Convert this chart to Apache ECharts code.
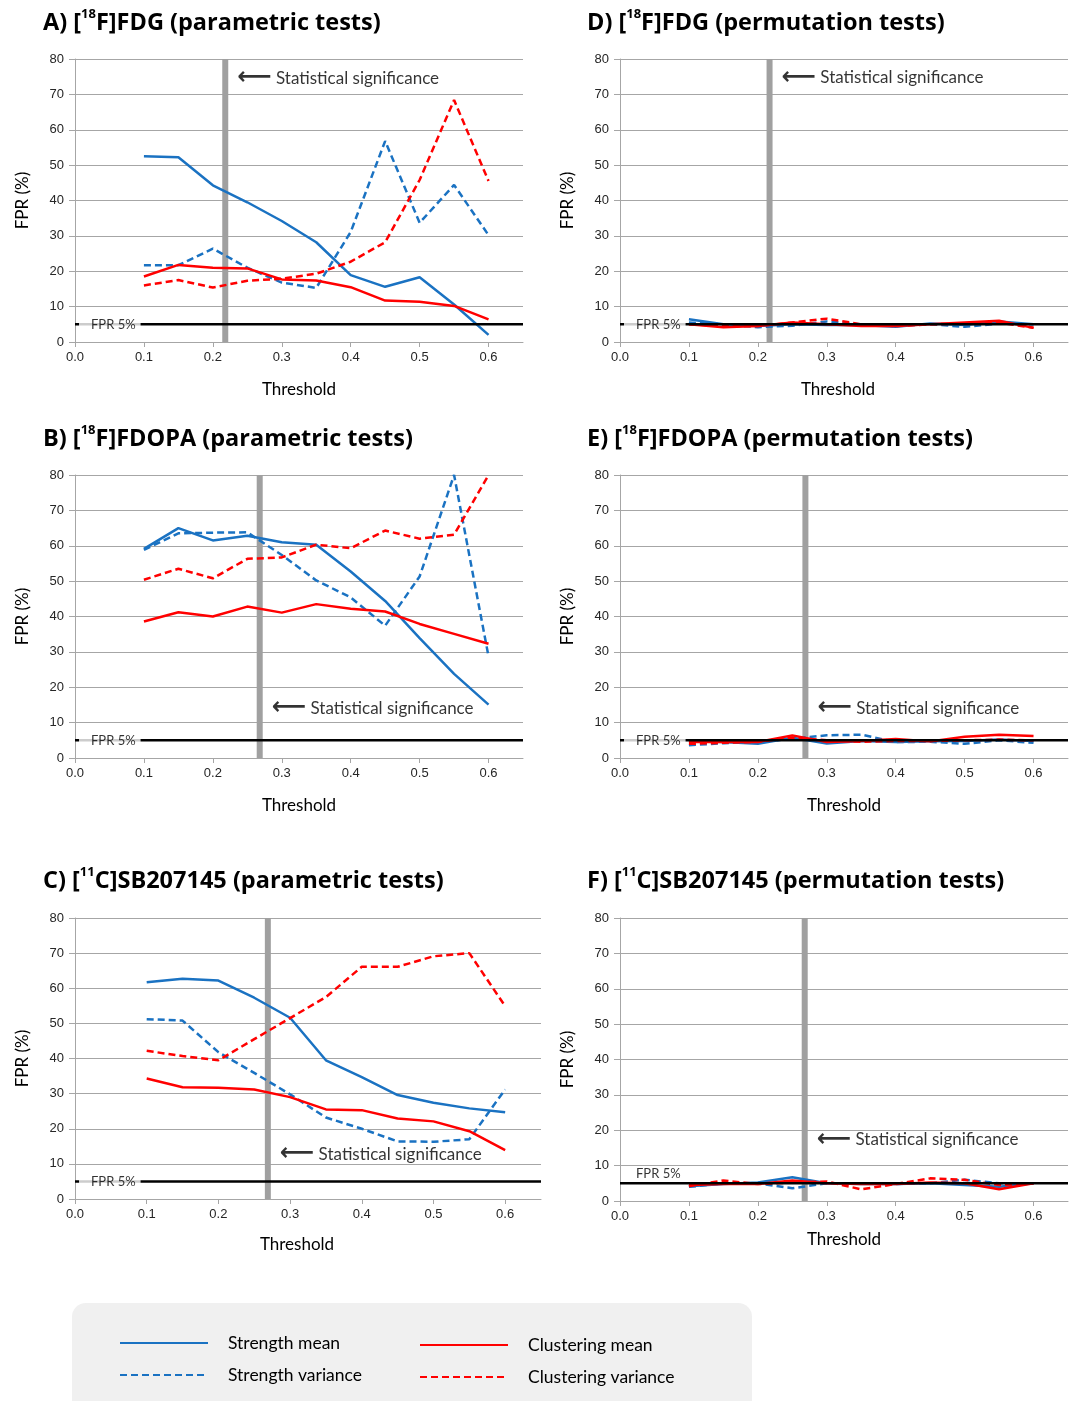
<!DOCTYPE html>
<html>
<head>
<meta charset="utf-8">
<script src="https://cdn.jsdelivr.net/npm/echarts@6/dist/echarts.min.js"></script>
<style>
  html, body { margin: 0; padding: 0; background: #fff; }
  #chart { width: 1073px; height: 1401px; }
</style>
</head>
<body>
<div id="chart"></div>
<script>
// Threshold values shared by every panel
const thresholds = [0.1, 0.15, 0.2, 0.25, 0.3, 0.35, 0.4, 0.45, 0.5, 0.55, 0.6];
const xTickValues = [0, 0.1, 0.2, 0.3, 0.4, 0.5, 0.6];
const yTickValues = [0, 10, 20, 30, 40, 50, 60, 70, 80];
const fprLevel = 5;

// A) [18F]FDG, parametric tests
const fdgParStrengthMean = [52.5, 52.2, 44.3, 39.5, 34.2, 28.2, 18.9, 15.6, 18.3, 10.6, 2.0];
const fdgParStrengthVar = [21.7, 21.7, 26.4, 21.0, 16.8, 15.3, 31.1, 56.8, 33.7, 44.4, 30.2];
const fdgParClusterMean = [18.5, 21.8, 21.0, 20.8, 17.7, 17.4, 15.5, 11.7, 11.4, 10.2, 6.4];
const fdgParClusterVar = [16.0, 17.5, 15.4, 17.3, 17.9, 19.3, 22.7, 28.2, 45.8, 68.4, 45.5];

// B) [18F]FDOPA, parametric tests
const fdopaParStrengthMean = [59.1, 65.0, 61.5, 62.8, 61.0, 60.3, 52.7, 44.4, 33.9, 23.8, 15.1];
const fdopaParStrengthVar = [58.8, 63.5, 63.7, 63.8, 57.4, 50.2, 45.4, 37.4, 51.3, 80.0, 28.7];
const fdopaParClusterMean = [38.6, 41.2, 40.0, 42.8, 41.1, 43.5, 42.2, 41.4, 37.9, 35.1, 32.3];
const fdopaParClusterVar = [50.4, 53.5, 50.8, 56.3, 56.7, 60.3, 59.3, 64.3, 62.0, 63.1, 80.0];

// C) [11C]SB207145, parametric tests
const sbParStrengthMean = [61.7, 62.7, 62.2, 57.3, 51.6, 39.5, 34.7, 29.6, 27.4, 25.8, 24.7];
const sbParStrengthVar = [51.2, 50.8, 41.8, 35.9, 29.8, 23.2, 20.0, 16.4, 16.3, 17.0, 31.2];
const sbParClusterMean = [34.3, 31.8, 31.7, 31.2, 29.0, 25.5, 25.3, 22.9, 22.1, 19.3, 13.9];
const sbParClusterVar = [42.2, 40.7, 39.5, 45.5, 51.5, 57.5, 66.1, 66.1, 69.1, 70.0, 54.9];

// D) [18F]FDG, permutation tests
const fdgPermStrengthMean = [6.4, 5.0, 4.5, 5.0, 4.8, 4.8, 4.3, 5.2, 4.8, 5.8, 5.0];
const fdgPermStrengthVar = [5.5, 5.0, 4.2, 4.6, 5.8, 5.0, 4.8, 5.0, 4.3, 5.2, 5.0];
const fdgPermClusterMean = [5.0, 4.2, 4.5, 5.5, 5.0, 4.5, 4.5, 5.0, 5.5, 6.0, 4.0];
const fdgPermClusterVar = [5.0, 4.5, 4.5, 5.5, 6.6, 5.0, 4.5, 5.0, 5.2, 5.5, 4.0];

// E) [18F]FDOPA, permutation tests
const fdopaPermStrengthMean = [4.8, 4.5, 4.0, 5.7, 4.1, 4.8, 4.5, 4.7, 4.8, 5.2, 4.8];
const fdopaPermStrengthVar = [3.6, 4.2, 4.5, 5.5, 6.4, 6.6, 4.5, 4.6, 4.0, 5.0, 4.3];
const fdopaPermClusterMean = [4.5, 4.6, 4.5, 6.4, 4.5, 4.8, 5.4, 4.7, 6.0, 6.6, 6.2];
const fdopaPermClusterVar = [4.0, 4.3, 4.6, 5.8, 5.0, 4.6, 4.8, 4.8, 5.0, 5.2, 5.0];

// F) [11C]SB207145, permutation tests
const sbPermStrengthMean = [4.2, 4.8, 5.2, 6.7, 5.0, 4.8, 4.8, 5.0, 4.5, 4.0, 5.0];
const sbPermStrengthVar = [4.0, 5.0, 5.0, 3.6, 5.0, 5.0, 4.8, 5.0, 6.0, 5.0, 5.0];
const sbPermClusterMean = [4.5, 4.8, 4.8, 5.8, 5.0, 4.8, 4.8, 5.2, 5.0, 3.3, 5.0];
const sbPermClusterVar = [4.2, 5.8, 4.8, 5.2, 5.5, 3.3, 4.8, 6.4, 6.0, 4.5, 5.0];

// Threshold of statistical significance and height of its note, per panel
const sigThresholds = [0.218, 0.268, 0.269, 0.217, 0.269, 0.268];
const sigNoteLevels = [74.6, 14.1, 12.8, 74.8, 14.1, 17.3];

const BLUE = '#1a72c2';
const RED = '#ff0000';
const GRID_GREY = '#a6a6a6';
const TEXT_FONT = 'Lato';
const TITLE_FONT = 'Open Sans';
const TICK_FONT = 'Liberation Sans';

const panels = [
  { title: ['A) [', '18', 'F]FDG (parametric tests)'], data: [fdgParStrengthMean, fdgParStrengthVar, fdgParClusterMean, fdgParClusterVar],
    grid: { left: 75, top: 59, width: 448, height: 283 }, titlePos: { left: 43, top: 8 }, xNameGap: 39, xNameShift: 0, fprAbove: false },
  { title: ['B) [', '18', 'F]FDOPA (parametric tests)'], data: [fdopaParStrengthMean, fdopaParStrengthVar, fdopaParClusterMean, fdopaParClusterVar],
    grid: { left: 75, top: 475, width: 448, height: 283 }, titlePos: { left: 43, top: 424 }, xNameGap: 39, xNameShift: 0, fprAbove: false },
  { title: ['C) [', '11', 'C]SB207145 (parametric tests)'], data: [sbParStrengthMean, sbParStrengthVar, sbParClusterMean, sbParClusterVar],
    grid: { left: 75, top: 918, width: 466, height: 281 }, titlePos: { left: 43, top: 866 }, xNameGap: 37, xNameShift: 22, fprAbove: false },
  { title: ['D) [', '18', 'F]FDG (permutation tests)'], data: [fdgPermStrengthMean, fdgPermStrengthVar, fdgPermClusterMean, fdgPermClusterVar],
    grid: { left: 620, top: 59, width: 448, height: 283 }, titlePos: { left: 587, top: 8 }, xNameGap: 39, xNameShift: 12, fprAbove: false },
  { title: ['E) [', '18', 'F]FDOPA (permutation tests)'], data: [fdopaPermStrengthMean, fdopaPermStrengthVar, fdopaPermClusterMean, fdopaPermClusterVar],
    grid: { left: 620, top: 475, width: 448, height: 283 }, titlePos: { left: 587, top: 424 }, xNameGap: 39, xNameShift: 0, fprAbove: false },
  { title: ['F) [', '11', 'C]SB207145 (permutation tests)'], data: [sbPermStrengthMean, sbPermStrengthVar, sbPermClusterMean, sbPermClusterVar],
    grid: { left: 620, top: 918, width: 448, height: 283 }, titlePos: { left: 587, top: 866 }, xNameGap: 30, xNameShift: 0, fprAbove: true }
];

const seriesNames = ['Strength mean', 'Strength variance', 'Clustering mean', 'Clustering variance'];
const seriesColors = [BLUE, BLUE, RED, RED];
const seriesDashed = [false, true, false, true];

const grids = [], xAxes = [], yAxes = [], titles = [], series = [];

panels.forEach((p, i) => {
  grids.push(Object.assign({ containLabel: false }, p.grid));
  titles.push({
    left: p.titlePos.left, top: p.titlePos.top, padding: 0,
    text: '{t|' + p.title[0] + '}{s|' + p.title[1] + '}{t|' + p.title[2] + '}',
    textStyle: {
      rich: {
        t: { fontFamily: TITLE_FONT, fontWeight: 'bold', fontSize: 23.5, color: '#000', lineHeight: 30 },
        s: { fontFamily: TITLE_FONT, fontWeight: 'bold', fontSize: 13, color: '#000', verticalAlign: 'top', lineHeight: 20 }
      }
    }
  });
  xAxes.push({
    gridIndex: i, type: 'value', min: 0, max: 0.65,
    name: 'Threshold', nameLocation: 'middle', nameGap: p.xNameGap,
    nameTextStyle: { fontFamily: TEXT_FONT, fontSize: 17, color: '#000', verticalAlign: 'top', padding: [0, p.xNameShift, 0, 0] },
    axisLine: { show: true, onZero: false, lineStyle: { color: GRID_GREY, width: 1 } },
    axisTick: { show: true, length: 5, inside: false, customValues: xTickValues, lineStyle: { color: GRID_GREY } },
    axisLabel: { customValues: xTickValues, formatter: v => v.toFixed(1), margin: 9, fontFamily: TICK_FONT, fontSize: 13, color: '#262626' },
    splitLine: { show: false }
  });
  yAxes.push({
    gridIndex: i, type: 'value', min: 0, max: 80, interval: 10,
    name: 'FPR (%)', nameLocation: 'middle', nameGap: 44, nameRotate: 90,
    nameTextStyle: { fontFamily: TEXT_FONT, fontSize: 17, color: '#000' },
    axisLine: { show: true, lineStyle: { color: GRID_GREY, width: 1 } },
    axisTick: { show: true, length: 6, lineStyle: { color: GRID_GREY } },
    axisLabel: { margin: 11, fontFamily: TICK_FONT, fontSize: 13, color: '#262626' },
    splitLine: { show: true, lineStyle: { color: GRID_GREY, width: 1 } }
  });

  // significance threshold bar
  series.push({
    type: 'line', xAxisIndex: i, yAxisIndex: i, silent: true, z: 1,
    data: [[sigThresholds[i], 0], [sigThresholds[i], 80]],
    symbol: 'none', lineStyle: { color: '#a0a0a0', width: 6 }
  });
  // its note
  series.push({
    type: 'scatter', xAxisIndex: i, yAxisIndex: i, silent: true, z: 6,
    data: [[sigThresholds[i], sigNoteLevels[i]]], symbolSize: 0,
    label: {
      show: true, position: 'right', distance: 12,
      formatter: '{a|⟵}{b| Statistical significance}',
      rich: {
        a: { fontFamily: 'DejaVu Sans', fontSize: 24, fontWeight: 'bold', color: '#000' },
        b: { fontFamily: TEXT_FONT, fontSize: 17, color: '#000' }
      }
    }
  });

  // data series
  p.data.forEach((arr, k) => {
    series.push({
      name: seriesNames[k], type: 'line', xAxisIndex: i, yAxisIndex: i, z: 3,
      data: thresholds.map((t, j) => [t, arr[j]]),
      symbol: 'none', smooth: false,
      lineStyle: { color: seriesColors[k], width: 2.5, type: seriesDashed[k] ? [7, 4] : 'solid' },
      itemStyle: { color: seriesColors[k] }
    });
  });

  // FPR 5% reference line
  series.push({
    type: 'line', xAxisIndex: i, yAxisIndex: i, silent: true, z: 4,
    data: [[0, fprLevel], [0.65, fprLevel]],
    symbol: 'none', lineStyle: { color: '#000', width: 2.5 }
  });
  series.push({
    type: 'scatter', xAxisIndex: i, yAxisIndex: i, silent: true, z: 5,
    data: [[0, fprLevel]], symbolSize: 0,
    label: p.fprAbove ? {
      show: true, position: 'right', distance: 16, offset: [0, -10],
      formatter: 'FPR 5%', fontFamily: TEXT_FONT, fontSize: 13, color: '#000'
    } : {
      show: true, position: 'right', distance: 4, formatter: 'FPR 5%',
      fontFamily: TEXT_FONT, fontSize: 13, color: '#000',
      backgroundColor: '#fff', padding: [3, 5, 3, 12]
    }
  });
});

const legendText = { fontFamily: TEXT_FONT, fontSize: 17.5, color: '#000', padding: [0, 0, 0, 15] };
const legendBase = {
  orient: 'vertical', itemWidth: 88, itemHeight: 14, itemGap: 14,
  textStyle: legendText, z: 5, selectedMode: false,
  itemStyle: { opacity: 0 }
};

const option = {
  animation: false,
  backgroundColor: '#fff',
  title: titles,
  grid: grids,
  xAxis: xAxes,
  yAxis: yAxes,
  series: series,
  legend: [
    Object.assign({ data: ['Strength mean', 'Strength variance'], left: 114, top: 1329 }, legendBase),
    Object.assign({ data: ['Clustering mean', 'Clustering variance'], left: 414, top: 1331 }, legendBase)
  ],
  graphic: [
    { type: 'rect', left: 72, top: 1303, z: 0, silent: true,
      shape: { width: 680, height: 130, r: 14 }, style: { fill: '#f0f0f0' } }
  ]
};

const chart = echarts.init(document.getElementById('chart'), null, { renderer: 'canvas' });
chart.setOption(option);
</script>
</body>
</html>
